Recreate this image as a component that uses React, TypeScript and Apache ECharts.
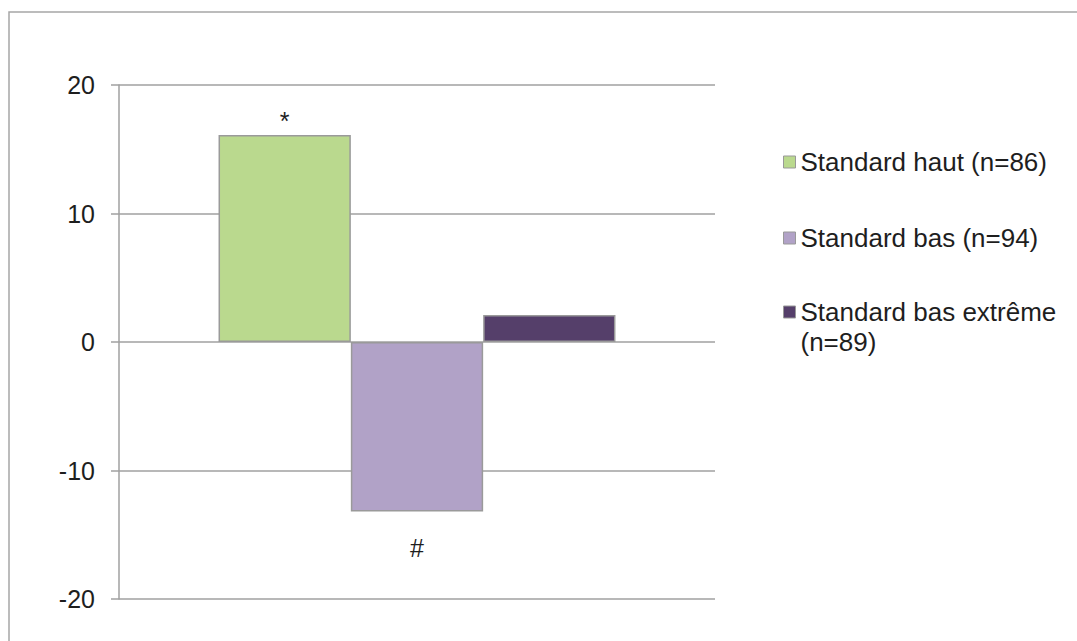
import React, { useEffect, useRef } from "react";
import * as echarts from "echarts";

const categories = [""];
const seriesNames = ["Standard haut (n=86)", "Standard bas (n=94)", "Standard bas extrême (n=89)"];
const seriesValues = [16.1, -13.2, 2.1];
const seriesMarks = ["*", "#", ""];
const seriesColors = ["#bad98e", "#b1a2c7", "#553f6a"];
const yTicks = [-20, -10, 0, 10, 20];

export default function App() {
  const ref = useRef<HTMLDivElement>(null);
  useEffect(() => {
    const chart = echarts.init(ref.current!, null, { renderer: "svg" });
    const font = "Liberation Sans, Arial, sans-serif";
    const textColor = "#1e1e1e";
    const series = seriesNames.map((name, i) => ({
      name,
      type: "bar",
      data: [seriesValues[i]],
      barGap: "0%",
      barCategoryGap: "33.4%",
      itemStyle: { color: seriesColors[i], borderColor: "#9a9a9a", borderWidth: 1.5 },
      label: {
        show: seriesMarks[i] !== "",
        position: seriesValues[i] >= 0 ? "top" : "bottom",
        distance: seriesValues[i] >= 0 ? 2 : 24,
        formatter: () => seriesMarks[i],
        color: textColor,
        fontSize: 25,
        fontFamily: font,
      },
    }));
    const legendText = { fontSize: 26, fontFamily: font, color: textColor, lineHeight: 30 };
    const legendItem = (n: string, i: number) => ({
      name: n,
      itemStyle: { color: seriesColors[i], borderColor: "#999", borderWidth: 1 },
    });
    chart.setOption({
      animation: false,
      backgroundColor: "#ffffff",
      graphic: [
        {
          type: "rect",
          shape: { x: 9, y: 12, width: 1200, height: 800 },
          style: { fill: "none", stroke: "#a6a6a6", lineWidth: 1.5 },
          silent: true,
        },
      ],
      grid: { left: 119, right: 362, top: 85, bottom: 42 },
      legend: [
        {
          orient: "vertical",
          left: 783,
          top: 147,
          padding: 0,
          itemWidth: 12,
          itemHeight: 12,
          itemGap: 46,
          icon: "rect",
          data: seriesNames.slice(0, 2).map((n, i) => legendItem(n, i)),
          textStyle: legendText,
        },
        {
          orient: "vertical",
          left: 783,
          top: 267,
          padding: 0,
          itemWidth: 12,
          itemHeight: 12,
          icon: "rect",
          data: [legendItem(seriesNames[2], 2)],
          formatter: (n: string) => "\n" + n.replace("extrême (n=89)", "extrême\n(n=89)"),
          textStyle: legendText,
        },
      ],
      xAxis: {
        type: "category",
        data: categories,
        show: false,
      },
      yAxis: {
        type: "value",
        min: yTicks[0],
        max: yTicks[yTicks.length - 1],
        interval: 10,
        axisLine: { show: true, lineStyle: { color: "#a0a0a0", width: 1.5 } },
        axisTick: { show: true, length: 8, lineStyle: { color: "#a0a0a0", width: 1.5 } },
        splitLine: { show: true, lineStyle: { color: "#a0a0a0", width: 1.5 } },
        axisLabel: { margin: 24, fontSize: 25, fontFamily: font, color: textColor },
      },
      series,
    });
    return () => chart.dispose();
  }, []);
  return (
    <div
      ref={ref}
      style={{ position: "absolute", left: 0, top: 0, width: 1077, height: 641 }}
    />
  );
}
